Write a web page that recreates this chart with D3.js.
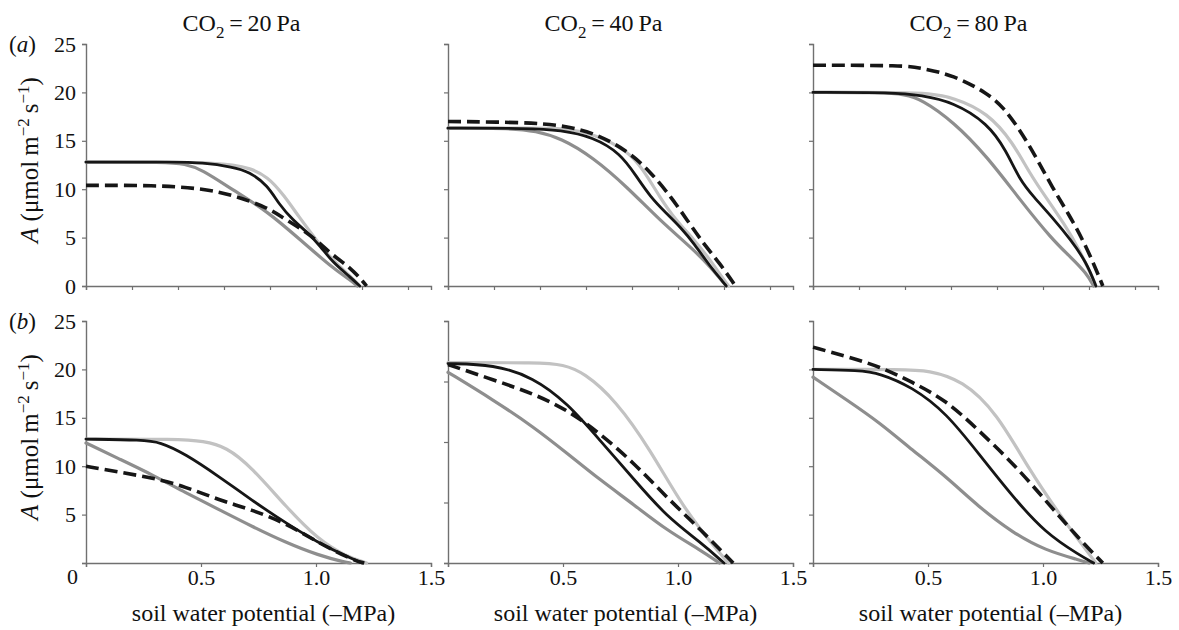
<!DOCTYPE html>
<html>
<head>
<meta charset="utf-8">
<script src="https://cdn.jsdelivr.net/npm/d3@7"></script>
<style>
  body { margin: 0; background: #fff; }
</style>
</head>
<body>
<svg id="chart" width="1179" height="630"></svg>
<script>
// panel titles (CO2 level) and row letters
const co2Levels = ["20", "40", "80"];
const rowLetters = ["a", "b"];
const yTickLabels = [0, 5, 10, 15, 20, 25];
const xTickLabels = [0.5, 1.0, 1.5];

// series: [soil water potential (-MPa), A]
// row (a)
const a20Black  = [[0,12.8],[0.4,12.8],[0.5,12.75],[0.64,12.3],[0.71,11.8],[0.79,10.4],[0.84,8.4],[0.90,6.8],[0.96,5.6],[1.02,4.1],[1.07,2.5],[1.15,0.9],[1.19,0]];
const a20Dash   = [[0,10.4],[0.3,10.4],[0.5,10.1],[0.64,9.4],[0.79,8.1],[0.86,7.0],[0.93,6.0],[1.0,4.8],[1.07,3.2],[1.15,1.9],[1.21,0.3],[1.22,0]];
const a20Light  = [[0,12.8],[0.45,12.8],[0.55,12.7],[0.64,12.5],[0.71,12.2],[0.79,11.3],[0.86,9.4],[0.93,7.0],[1.0,4.8],[1.07,2.7],[1.15,1.0],[1.19,0]];
const a20Mid    = [[0,12.8],[0.35,12.8],[0.43,12.6],[0.5,12.1],[0.64,9.9],[0.79,7.7],[0.93,4.8],[1.07,1.9],[1.15,0.6],[1.18,0]];

const a40Black  = [[0,16.3],[0.35,16.3],[0.49,16.1],[0.63,15.4],[0.75,13.7],[0.82,11.3],[0.88,9.2],[0.95,7.5],[1.01,6.1],[1.07,4.4],[1.14,2.0],[1.2,0.3],[1.21,0]];
const a40Dash   = [[0,17.0],[0.35,16.9],[0.49,16.6],[0.63,15.9],[0.78,14.0],[0.88,11.8],[0.97,9.2],[1.04,6.8],[1.11,4.4],[1.18,2.4],[1.25,0]];
const a40Light  = [[0,16.3],[0.4,16.3],[0.49,16.3],[0.63,15.8],[0.78,14.0],[0.85,12.0],[0.92,9.2],[0.99,6.8],[1.07,4.8],[1.14,2.7],[1.2,0.6],[1.22,0]];
const a40Mid    = [[0,16.3],[0.28,16.3],[0.38,16.0],[0.49,15.3],[0.63,13.3],[0.78,10.2],[0.92,6.8],[1.07,3.7],[1.14,2.0],[1.21,0]];

const a80Black  = [[0,20.0],[0.35,20.0],[0.47,19.7],[0.61,19.0],[0.76,16.8],[0.84,14.0],[0.90,10.9],[0.96,9.2],[1.04,7.1],[1.12,4.8],[1.19,2.4],[1.23,0]];
const a80Dash   = [[0,22.8],[0.4,22.8],[0.47,22.5],[0.61,21.8],[0.76,19.9],[0.83,18.4],[0.90,16.1],[0.97,13.3],[1.04,10.2],[1.12,7.1],[1.19,4.0],[1.25,0.6],[1.26,0]];
const a80Light  = [[0,20.0],[0.4,20.0],[0.5,19.9],[0.61,19.5],[0.76,17.9],[0.87,14.8],[0.94,11.7],[1.02,8.9],[1.09,6.5],[1.16,3.7],[1.22,0.6],[1.23,0]];
const a80Mid    = [[0,20.0],[0.3,20.0],[0.4,19.8],[0.47,19.3],[0.61,17.0],[0.76,13.3],[0.90,8.9],[1.04,4.8],[1.12,3.0],[1.19,1.3],[1.22,0]];

// row (b)
const b20Black  = [[0,12.8],[0.25,12.7],[0.32,12.5],[0.43,11.3],[0.58,8.9],[0.72,6.5],[0.87,4.1],[1.01,2.1],[1.13,0.7],[1.2,0]];
const b20Dash   = [[0,10.0],[0.14,9.4],[0.29,8.8],[0.43,7.9],[0.58,6.5],[0.72,5.5],[0.87,4.1],[1.01,2.1],[1.16,0.3],[1.21,0]];
const b20Light  = [[0,12.8],[0.4,12.8],[0.51,12.6],[0.61,12.0],[0.72,9.9],[0.87,5.8],[1.01,2.4],[1.13,0.7],[1.22,0]];
const b20Mid    = [[0,12.4],[0.14,10.8],[0.29,9.1],[0.43,7.3],[0.58,5.5],[0.72,3.8],[0.87,2.1],[1.01,0.8],[1.13,0.05],[1.15,0]];

const b40Black  = [[0,20.6],[0.2,20.5],[0.37,19.2],[0.52,16.5],[0.66,12.7],[0.81,8.6],[0.95,4.8],[1.1,2.1],[1.2,0]];
const b40Dash   = [[0,20.5],[0.2,18.9],[0.37,17.5],[0.52,15.8],[0.66,13.4],[0.81,10.3],[0.95,6.8],[1.1,3.4],[1.24,0]];
const b40Light  = [[0,20.7],[0.4,20.7],[0.5,20.5],[0.59,19.7],[0.73,16.8],[0.88,11.7],[1.02,5.8],[1.17,1.3],[1.22,0]];
const b40Mid    = [[0,19.7],[0.2,16.8],[0.37,14.1],[0.52,11.3],[0.66,8.6],[0.81,6.0],[0.95,3.4],[1.1,1.3],[1.18,0]];

const b80Black  = [[0,20.0],[0.2,19.9],[0.29,19.6],[0.43,18.2],[0.58,15.5],[0.72,11.3],[0.87,6.8],[1.01,3.1],[1.16,0.8],[1.22,0]];
const b80Dash   = [[0,22.3],[0.15,21.3],[0.29,20.3],[0.43,18.7],[0.58,16.8],[0.72,13.7],[0.87,10.3],[1.01,6.5],[1.16,2.4],[1.26,0]];
const b80Light  = [[0,20.0],[0.4,20.0],[0.5,19.9],[0.65,18.9],[0.8,15.5],[0.94,9.6],[1.09,4.4],[1.23,0]];
const b80Mid    = [[0,19.2],[0.15,16.8],[0.29,14.5],[0.43,11.7],[0.58,8.9],[0.72,5.8],[0.87,3.1],[1.01,1.3],[1.16,0.3],[1.2,0]];

const panels = [
  [{mid: a20Mid, light: a20Light, black: a20Black, dash: a20Dash},
   {mid: a40Mid, light: a40Light, black: a40Black, dash: a40Dash},
   {mid: a80Mid, light: a80Light, black: a80Black, dash: a80Dash}],
  [{mid: b20Mid, light: b20Light, black: b20Black, dash: b20Dash},
   {mid: b40Mid, light: b40Light, black: b40Black, dash: b40Dash},
   {mid: b80Mid, light: b80Light, black: b80Black, dash: b80Dash}]
];

const styles = {
  mid:   {stroke: "#8e8e8e", width: 3.2, dash: null},
  light: {stroke: "#c2c2c2", width: 3.2, dash: null},
  black: {stroke: "#161616", width: 2.8, dash: null},
  dash:  {stroke: "#161616", width: 3.6, dash: "13,6"}
};

const serif = "Liberation Serif";
const svg = d3.select("#chart");
const colX = [86, 448, 813];
const rowY = [44, 321];
const pw = 345, ph = 242;
const axisColor = "#707070";

const x = d3.scaleLinear().domain([0, 1.5]).range([0, pw]);
const y = d3.scaleLinear().domain([0, 25]).range([ph, 0]);

const line = d3.line()
  .x(d => x(d[0]))
  .y(d => y(d[1]))
  .curve(d3.curveBasis);

const addText = (x0, y0, size) => svg.append("text")
  .attr("x", x0).attr("y", y0)
  .attr("font-family", serif)
  .attr("font-size", size)
  .attr("fill", "#111");

panels.forEach((row, r) => {
  row.forEach((p, c) => {
    let g = svg.append("g").attr("transform", "translate(" + colX[c] + "," + rowY[r] + ")");

    // x axis: fine ticks on top row, labelled ticks on bottom row
    let xAx = d3.axisBottom(x).tickSizeOuter(0).tickSize(4);
    if (r == 0) {
      xAx.tickValues(d3.range(0, 1.41, 0.2)).tickFormat("");
    } else {
      xAx.tickValues([0].concat(xTickLabels)).tickPadding(2)
        .tickFormat(d => d == 0 ? "" : d3.format(".1f")(d));
    }
    let gx = g.append("g").attr("transform", "translate(0," + ph + ")").call(xAx);

    // y axis
    let yVals = (r == 1 && c == 1) ? [0, 6.25, 12.5, 18.75, 25] : yTickLabels;
    let yAx = d3.axisLeft(y).tickValues(yVals).tickSizeOuter(0).tickSize(4).tickPadding(6)
      .tickFormat(d => (c == 0 && !(r == 1 && d == 0)) ? d : "");
    let gy = g.append("g").call(yAx);

    [gx, gy].forEach(a => {
      a.attr("font-family", serif).attr("font-size", 22);
      a.select(".domain").attr("stroke", axisColor).attr("stroke-width", 1.4);
      a.selectAll(".tick line").attr("stroke", axisColor).attr("stroke-width", 1.2);
      a.selectAll(".tick text").attr("font-family", serif).attr("font-size", 22).attr("fill", "#111");
    });

    ["mid", "light", "black", "dash"].forEach(k => {
      let s = styles[k];
      g.append("path")
        .datum(p[k])
        .attr("d", line)
        .attr("fill", "none")
        .attr("stroke", s.stroke)
        .attr("stroke-width", s.width)
        .attr("stroke-linecap", k == "dash" ? "butt" : "round")
        .attr("stroke-dasharray", s.dash);
    });

    // column titles
    if (r == 0) {
      let t = addText(colX[c] + pw / 2 - 17, 31, 24).attr("text-anchor", "middle");
      t.append("tspan").text("CO");
      t.append("tspan").text("2").attr("font-size", 17).attr("dy", 7);
      t.append("tspan").text("\u2009=\u2009" + co2Levels[c] + "\u2009Pa").attr("dy", -7);
    } else {
      addText(colX[c] + pw / 2 + 5, 621, 24)
        .attr("text-anchor", "middle")
        .text("soil water potential (\u2013MPa)");
    }
  });

  // row letter
  let lt = addText(9, rowY[r] + 8, 23);
  lt.append("tspan").text("(");
  lt.append("tspan").text(rowLetters[r]).attr("font-style", "italic");
  lt.append("tspan").text(")");

  // y axis title
  let yt = addText(0, 0, 25)
    .attr("transform", "translate(38," + (rowY[r] + 116) + ") rotate(-90)")
    .attr("text-anchor", "middle");
  yt.append("tspan").text("A").attr("font-style", "italic");
  yt.append("tspan").text(" (\u03bcmol\u2009m");
  yt.append("tspan").text("\u22122").attr("font-size", 17).attr("dy", -9);
  yt.append("tspan").text("\u2009s").attr("dy", 9);
  yt.append("tspan").text("\u22121").attr("font-size", 17).attr("dy", -9);
  yt.append("tspan").text(")").attr("dy", 9);
});

// the lone zero below the bottom-left y axis
addText(78, 584, 22).attr("text-anchor", "end").text("0");
</script>
</body>
</html>
